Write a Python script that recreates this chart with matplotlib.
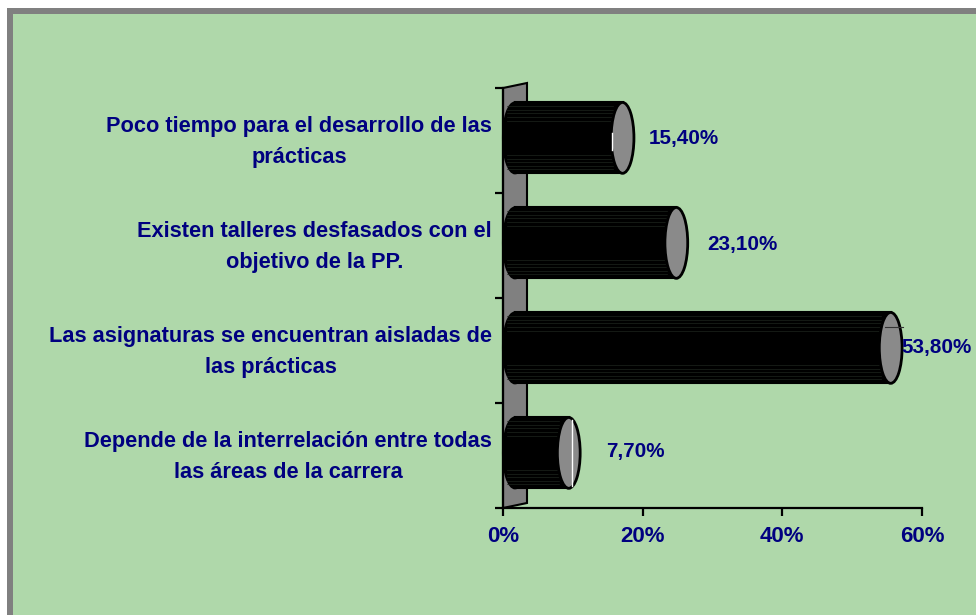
import matplotlib
matplotlib.use("Agg")
import matplotlib.pyplot as plt
from matplotlib.patches import Ellipse, Polygon, Rectangle

plt.rcParams["font.family"] = ["Liberation Sans", "DejaVu Sans"]

categories = [
    "Depende de la interrelación entre todas\nlas áreas de la carrera",
    "Las asignaturas se encuentran aisladas de\nlas prácticas",
    "Existen talleres desfasados con el\nobjetivo de la PP.",
    "Poco tiempo para el desarrollo de las\nprácticas",
]
values = [7.7, 53.8, 23.1, 15.4]
value_labels = ["7,70%", "53,80%", "23,10%", "15,40%"]
x_ticks = [0, 20, 40, 60]
x_tick_labels = ["0%", "20%", "40%", "60%"]

NAVY = "#000080"
BG = "#AFD8AA"
GREY = "#808080"
W, H = 976, 615

fig = plt.figure(figsize=(W / 100, H / 100), dpi=100, facecolor="white")

# grey frame, the picture is cut off at right and bottom
fig.patches.append(Rectangle((7 / W, -0.1), 1.2, (H - 8) / H + 0.1, transform=fig.transFigure,
                             facecolor=GREY, edgecolor="none", zorder=-3))
fig.patches.append(Rectangle((13 / W, -0.1), 1.2, (H - 14) / H + 0.1, transform=fig.transFigure,
                             facecolor=BG, edgecolor="none", zorder=-2))

ax = fig.add_axes([503 / W, (H - 508) / H, 419 / W, 420 / H])
ax.patch.set_visible(False)
ax.set_xlim(0, 60)
ax.set_ylim(0, 4)

px_x = 60 / 419
px_y = 4 / 420
depth = 12 * px_x

# back wall
wall = Polygon([(0, 0), (24 * px_x, 5 * px_y), (24 * px_x, 4 + 5 * px_y), (0, 4)],
               closed=True, facecolor=GREY, edgecolor="black", linewidth=1.5, clip_on=False, zorder=1)
ax.add_patch(wall)

streaks = [0.06, 0.11, 0.16, 0.2, 0.26, 0.74, 0.8, 0.85, 0.9, 0.95]
bar_h = 0.675
# label offsets from the bar value, in pixels
offsets = [(79, 1), (58, 0), (78, -2), (73, -1)]

for i, v in enumerate(values):
    yc = i + 0.525
    x0 = depth
    x1 = v + depth
    ax.add_patch(Ellipse((x0, yc), 2 * depth, bar_h, facecolor="black", edgecolor="black",
                         linewidth=1.5, clip_on=False, zorder=2))
    ax.add_patch(Rectangle((x0, yc - bar_h / 2), v, bar_h, facecolor="black", edgecolor="black",
                           linewidth=1.5, clip_on=False, zorder=2))
    for f in streaks:
        ax.plot([x0 - depth * 0.7, x1 - depth * 0.8], [yc - bar_h / 2 + f * bar_h] * 2,
                color="#1e241e", linewidth=0.5, clip_on=False, zorder=3)
    ax.add_patch(Ellipse((x1, yc), 2 * depth * 0.95, bar_h, facecolor="#8a8a8a", edgecolor="black",
                         linewidth=2, clip_on=False, zorder=4))
    dx, dy = offsets[i]
    ax.annotate(value_labels[i], (v, yc), xytext=(dx * 0.72, dy * 0.72), textcoords="offset points",
                ha="center", va="center", color=NAVY, fontsize=14.85, fontweight="bold",
                annotation_clip=False, zorder=5)
    ax.annotate(categories[i], (0, yc), xytext=(-11 * 0.72, -4 * 0.72), textcoords="offset points",
                ha="right", va="center", multialignment="center", color=NAVY, fontsize=15.67,
                fontweight="bold", linespacing=1.64, annotation_clip=False, zorder=5)

# rendering artefacts visible on the end caps
ax.plot([values[0] + depth + 3 * px_x] * 2, [0.525 - bar_h / 2 + 0.02, 0.525 + bar_h / 2 - 0.02],
        color="white", linewidth=1, clip_on=False, zorder=5)
ax.plot([values[1] + depth - 6 * px_x, values[1] + depth + 12 * px_x], [1.525 + 0.2] * 2,
        color="#333333", linewidth=0.8, clip_on=False, zorder=5)
ax.plot([values[3] + depth - 11 * px_x] * 2, [3.525 - 0.12, 3.525 + 0.05],
        color="white", linewidth=1, clip_on=False, zorder=5)

for s in ["top", "right"]:
    ax.spines[s].set_visible(False)
for s in ["left", "bottom"]:
    ax.spines[s].set_linewidth(1.6)
    ax.spines[s].set_zorder(6)

ax.set_yticks([0, 1, 2, 3, 4])
ax.set_yticklabels([])
ax.set_xticks(x_ticks)
ax.set_xticklabels(x_tick_labels, color=NAVY, fontsize=16, fontweight="bold")
ax.tick_params(axis="both", length=6, width=1.6, direction="out")
ax.tick_params(axis="x", pad=7)

fig.savefig("out.png", dpi=100, facecolor=fig.get_facecolor())
